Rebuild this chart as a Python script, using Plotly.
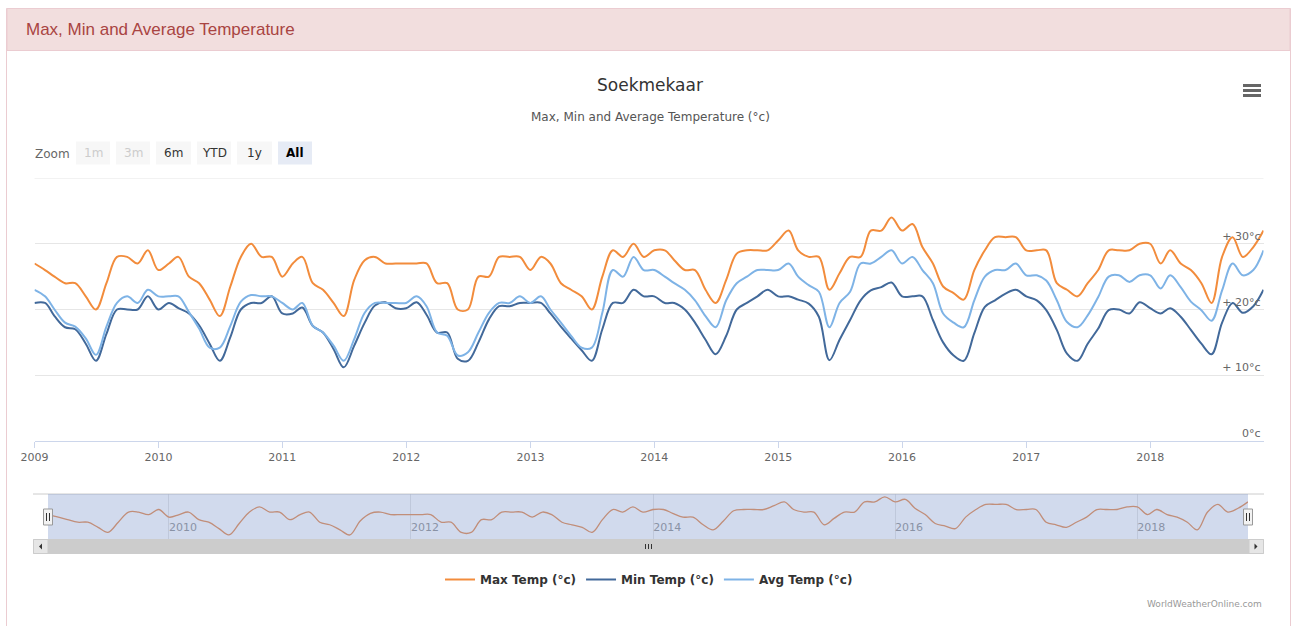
import pandas as pd
import plotly.graph_objects as go

# ---------------- data (monthly, Jan 2009 - Dec 2018) ----------------
months = pd.date_range("2009-01-01", periods=120, freq="MS")

max_temp = [
    27, 26, 25, 24, 24, 22, 20, 24, 28, 28, 27, 29,            # 2009
    26, 27, 28, 25, 24, 21.5, 19, 23.5, 28, 30, 28, 28,        # 2010
    25, 27, 28, 24, 23, 21, 19, 24.5, 27.5, 28, 27, 27,        # 2011
    27, 27, 27, 24, 24, 20, 20, 25, 25, 28, 28, 28,            # 2012
    26, 28, 27, 24, 23, 22, 20, 25, 29, 28, 30, 28,            # 2013
    29, 29, 27.5, 26, 26, 23, 21, 24.5, 28.5, 29, 29, 29,      # 2014
    30.5, 32, 29, 28, 28, 23, 25.5, 28, 28, 32, 32, 34,        # 2015
    32, 33, 29.5, 27, 23.5, 22.5, 21.5, 26, 29, 31, 31, 31,    # 2016
    29, 29, 29, 24, 23, 22, 24, 26, 29, 29, 29, 30,            # 2017
    30, 27, 29, 27, 26, 24, 21, 28, 31, 28, 29.5, 32,          # 2018
]

min_temp = [
    21, 21, 19, 17.3, 17, 14.8, 12.2, 16.3, 20, 20, 20, 22,
    20, 21, 20.2, 19.4, 17.6, 14.8, 12.2, 15.8, 20, 21, 21, 22,
    19.4, 19.4, 20.3, 17.5, 16.5, 14, 11.2, 14.5, 18, 20.6, 21.1, 20.2,
    20.2, 21.1, 19.2, 16.5, 16.5, 12.5, 12.2, 15, 18.5, 20.5, 20.5, 21,
    21, 21, 19.4, 17.4, 15.6, 13.8, 12.2, 17, 21, 21, 23, 22,
    22, 21, 21, 20, 18, 15.4, 13.2, 16, 20, 21, 22, 23,
    22, 22, 21.5, 20.9, 18.9, 12.3, 15.4, 18.4, 21.4, 22.9, 23.4, 24.1,
    22, 22, 22, 18.4, 15, 13, 12.2, 16.4, 20.4, 21.4, 22.4, 23,
    22, 21.4, 19.9, 16.9, 13.3, 12.2, 14.8, 17.1, 19.9, 20, 19.4, 21.1,
    20.2, 19.4, 20.2, 18.9, 16.9, 14.8, 13.2, 18, 21, 19.5, 20.5, 23,
]

avg_temp = [
    23, 22, 20, 18, 17.4, 15.6, 13.1, 17.4, 21, 22, 21, 23,
    22, 22, 22, 19.6, 17.1, 14.2, 14.2, 17.5, 21.2, 22.2, 22, 22,
    21, 20, 21, 17.5, 16.5, 14.5, 12.2, 15.5, 19.5, 21, 21, 21,
    21, 22, 20.5, 16.5, 16, 13, 13.5, 16.5, 19.5, 21, 21, 22,
    21, 22, 20, 18, 16, 14.2, 14.2, 19.5, 26, 25, 28, 26,
    26, 25, 24, 23, 21.4, 19, 17.3, 21.4, 24, 25, 26, 26,
    26, 27, 25, 23.7, 22.7, 17.3, 21, 22.7, 27, 27, 28, 29,
    27, 28, 26, 24, 19.4, 18, 17.3, 21.4, 25, 26, 26, 27,
    25.2, 25.2, 24.4, 21.4, 18.1, 17.3, 19.1, 21.9, 25, 25.2, 24.2, 25.2,
    25.2, 23.2, 25.2, 23.4, 21.2, 19.9, 18.3, 22.9, 27, 25.2, 26, 29,
]

series_names = ["Max Temp (°c)", "Min Temp (°c)", "Avg Temp (°c)"]
y_tick_vals = [0, 10, 20, 30, 40]
y_tick_text = ["0°c", "+ 10°c", "+ 20°c", "+ 30°c", ""]
zoom_buttons = ["1m", "3m", "6m", "YTD", "1y", "All"]

# ---------------- styling ----------------
W, H = 1292, 626
FONT = "DejaVu Sans"
C_MAX, C_MIN, C_AVG = "#F28C3C", "#42699A", "#7EB3E6"


def px(x):
    return x / W


def py(y):
    return 1 - y / H


fig = go.Figure()
for name, vals, col in zip(series_names, [max_temp, min_temp, avg_temp], [C_MAX, C_MIN, C_AVG]):
    fig.add_trace(go.Scatter(
        x=months, y=vals, name=name, mode="lines",
        line=dict(color=col, width=2, shape="spline", smoothing=1),
        xaxis="x", yaxis="y",
    ))

# navigator series
fig.add_trace(go.Scatter(
    x=months, y=max_temp, mode="lines", showlegend=False, hoverinfo="skip",
    line=dict(color="#E8925A", width=1.3, shape="spline", smoothing=1),
    xaxis="x2", yaxis="y2",
))

shapes = []
# panel border + header
shapes.append(dict(type="rect", xref="paper", yref="paper", x0=px(6.5), x1=px(1290.5),
                   y0=py(660), y1=py(8.5), line=dict(color="#EBCCD1", width=1), fillcolor="rgba(0,0,0,0)",
                   layer="below"))
shapes.append(dict(type="rect", xref="paper", yref="paper", x0=px(7), x1=px(1290),
                   y0=py(50.5), y1=py(8.5), line=dict(color="#EBCCD1", width=1), fillcolor="#F2DEDE",
                   layer="below"))
# top gridline (40°c, unlabeled)
shapes.append(dict(type="line", xref="x domain", yref="y", x0=0, x1=1, y0=40, y1=40,
                   line=dict(color="#E6E6E6", width=1), layer="below"))
# hamburger icon
for yy in (85.5, 90.5, 95.5):
    shapes.append(dict(type="line", xref="paper", yref="paper", x0=px(1243), x1=px(1261),
                       y0=py(yy), y1=py(yy), line=dict(color="#666666", width=3)))
# zoom buttons
btn_x = [(76, 110), (116, 150), (156, 191), (197, 231), (237, 272), (278, 312)]
annotations = []
for label, (x0, x1) in zip(zoom_buttons, btn_x):
    sel = label == "All"
    disabled = label in ("1m", "3m")
    shapes.append(dict(type="rect", xref="paper", yref="paper", x0=px(x0), x1=px(x1),
                       y0=py(164.5), y1=py(141.5), line=dict(width=0),
                       fillcolor="#E6EBF5" if sel else "#F7F7F7"))
    annotations.append(dict(xref="paper", yref="paper", x=px((x0 + x1) / 2), y=py(153),
                            text=f"<b>{label}</b>" if sel else label, showarrow=False,
                            xanchor="center", yanchor="middle",
                            font=dict(family=FONT, size=12,
                                      color="#CCCCCC" if disabled else ("#000000" if sel else "#333333"))))
annotations.append(dict(xref="paper", yref="paper", x=px(33), y=py(154), text="Zoom", showarrow=False,
                        xanchor="left", yanchor="middle", font=dict(family=FONT, size=12, color="#666666")))

# navigator: outline, mask, handles, scrollbar
nav_top, nav_bot = 494, 539
shapes.append(dict(type="line", xref="paper", yref="paper", x0=px(33), x1=px(1264),
                   y0=py(nav_top), y1=py(nav_top), line=dict(color="#CCCCCC", width=1)))
shapes.append(dict(type="rect", xref="paper", yref="paper", x0=px(48), x1=px(1248),
                   y0=py(nav_bot), y1=py(nav_top), line=dict(width=0),
                   fillcolor="rgba(102,133,194,0.3)", layer="above"))
for hx in (48, 1248):
    shapes.append(dict(type="rect", xref="paper", yref="paper", x0=px(hx - 4.5), x1=px(hx + 4.5),
                       y0=py(525), y1=py(509), line=dict(color="#999999", width=1), fillcolor="#F2F2F2",
                       layer="above"))
    for dx in (-1.5, 1.5):
        shapes.append(dict(type="line", xref="paper", yref="paper", x0=px(hx + dx), x1=px(hx + dx),
                           y0=py(521), y1=py(513), line=dict(color="#333333", width=1), layer="above"))
# scrollbar
shapes.append(dict(type="rect", xref="paper", yref="paper", x0=px(33.5), x1=px(1263.5),
                   y0=py(553.5), y1=py(539.5), line=dict(color="#CCCCCC", width=1), fillcolor="#CCCCCC"))
for bx0, bx1 in ((33.5, 48), (1249, 1263.5)):
    shapes.append(dict(type="rect", xref="paper", yref="paper", x0=px(bx0), x1=px(bx1),
                       y0=py(553.5), y1=py(539.5), line=dict(color="#CCCCCC", width=1), fillcolor="#E6E6E6"))
shapes.append(dict(type="path", xref="paper", yref="paper",
                   path=f"M {px(42)} {py(543.5)} L {px(42)} {py(549.5)} L {px(39)} {py(546.5)} Z",
                   fillcolor="#333333", line=dict(width=0)))
shapes.append(dict(type="path", xref="paper", yref="paper",
                   path=f"M {px(1254.5)} {py(543.5)} L {px(1254.5)} {py(549.5)} L {px(1257.5)} {py(546.5)} Z",
                   fillcolor="#333333", line=dict(width=0)))
for gx in (645.5, 648.5, 651.5):
    shapes.append(dict(type="line", xref="paper", yref="paper", x0=px(gx), x1=px(gx),
                       y0=py(549), y1=py(544), line=dict(color="#333333", width=1)))

# subtitle and credits
annotations.append(dict(xref="paper", yref="paper", x=px(650), y=py(116.5),
                        text="Max, Min and Average Temperature (°c)", showarrow=False,
                        xanchor="center", yanchor="middle", font=dict(family=FONT, size=12, color="#555555")))
annotations.append(dict(xref="paper", yref="paper", x=px(24), y=py(29.5),
                        text="Max, Min and Average Temperature", showarrow=False,
                        xanchor="left", yanchor="middle",
                        font=dict(family="Liberation Sans", size=17, color="#A94442")))
annotations.append(dict(xref="paper", yref="paper", x=px(1264), y=py(603.5),
                        text="WorldWeatherOnline.com", showarrow=False,
                        xanchor="right", yanchor="middle", font=dict(family=FONT, size=9, color="#999999")))

x_range = [months[0], months[-1]]

fig.update_layout(
    template="none",
    width=W, height=H, autosize=False,
    margin=dict(l=0, r=0, t=0, b=0, pad=0),
    paper_bgcolor="white", plot_bgcolor="white",
    font=dict(family=FONT, color="#333333"),
    title=dict(text="Soekmekaar", x=px(650), xanchor="center", y=py(85), yanchor="middle",
               font=dict(family=FONT, size=17, color="#333333"), automargin=False),
    xaxis=dict(domain=[px(34.5), px(1263.5)], anchor="y", range=x_range, type="date",
               dtick="M12", tick0="2009-01-01", tickformat="%Y", automargin=False,
               showgrid=False, showline=True, linecolor="#CCD6EB", linewidth=1,
               ticks="outside", ticklen=6, tickcolor="#CCD6EB", tickwidth=1,
               tickfont=dict(family=FONT, size=11, color="#666666"), zeroline=False),
    yaxis=dict(domain=[py(441), py(178)], anchor="x", range=[0, 40], side="right",
               tickvals=y_tick_vals, ticktext=y_tick_text, ticklabelposition="inside top",
               automargin=False, ticks="",
               showgrid=True, gridcolor="#E6E6E6", gridwidth=1, zeroline=False, showline=False,
               tickfont=dict(family=FONT, size=11, color="#666666")),
    xaxis2=dict(domain=[px(48), px(1248)], anchor="y2", range=x_range, type="date",
                dtick="M24", tick0="2010-01-01", tickformat="%Y", automargin=False,
                ticklabelposition="inside right", ticks="",
                showgrid=True, gridcolor="#E6E6E6", showline=False, zeroline=False,
                tickfont=dict(family=FONT, size=11, color="#999999")),
    yaxis2=dict(domain=[py(nav_bot), py(nav_top)], anchor="x2", range=[17.4, 35.1], automargin=False,
                showgrid=False, showticklabels=False, zeroline=False, showline=False, ticks=""),
    legend=dict(orientation="h", x=px(649), xanchor="center", y=py(579.5), yanchor="middle",
                font=dict(family=FONT, size=12, color="#333333", weight="bold"),
                itemwidth=30, bgcolor="rgba(0,0,0,0)", borderwidth=0),
    shapes=shapes,
    annotations=annotations,
    showlegend=True,
    hovermode="x unified",
)

fig.write_html(
    "out.html",
    config={"responsive": False, "displayModeBar": False},
    post_script="document.body.style.margin='0';document.body.style.padding='0';",
)
